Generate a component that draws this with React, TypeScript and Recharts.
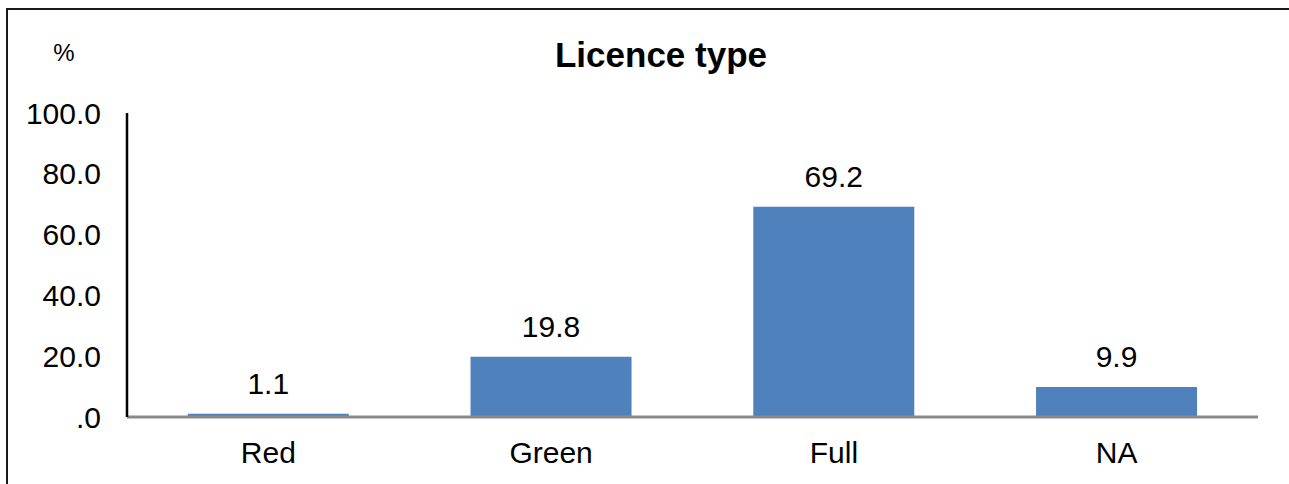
import { BarChart, Bar, XAxis, YAxis, LabelList } from 'recharts'

const categories = ['Red', 'Green', 'Full', 'NA']
const shares = [1.1, 19.8, 69.2, 9.9]
const yTicks = [0, 20, 40, 60, 80, 100]

const data = categories.map((name, i) => ({ name, value: shares[i] }))

const FONT = '"Liberation Sans", Arial, sans-serif'

const fmtTick = (v: number) => (v === 0 ? '.0' : v.toFixed(1))

export default function App() {
  return (
    <div style={{ position: 'absolute', left: 0, top: 0, width: 1289, height: 484, overflow: 'hidden', background: '#fff' }}>
      {/* chart frame, runs off the right and bottom edges like the source */}
      <div style={{ position: 'absolute', left: 6, top: 8, width: 1400, height: 600, border: '2px solid #1a1a1a' }} />
      <svg width={1289} height={484} style={{ position: 'absolute', left: 0, top: 0 }}>
        <text x={661} y={67} textAnchor="middle" fontFamily={FONT} fontWeight={700} fontSize={35} fill="#000">
          Licence type
        </text>
        <text x={64} y={61} textAnchor="middle" fontFamily={FONT} fontSize={24} fill="#000">
          %
        </text>
      </svg>
      <div style={{ position: 'absolute', left: 0, top: 0 }}>
        <BarChart
          width={1289}
          height={484}
          data={data}
          margin={{ top: 113, right: 31, bottom: 0, left: 27 }}
          barCategoryGap="21.5%"
        >
          <XAxis
            dataKey="name"
            height={67}
            axisLine={{ stroke: '#898989', strokeWidth: 3 }}
            tickLine={false}
            tickSize={0}
            tickMargin={25}
            tick={{ fontSize: 30, fill: '#000', fontFamily: FONT }}
          />
          <YAxis
            width={100}
            domain={[0, 100]}
            ticks={yTicks}
            interval={0}
            tickFormatter={fmtTick}
            axisLine={{ stroke: '#000', strokeWidth: 2.5 }}
            tickLine={false}
            tickSize={0}
            tickMargin={26}
            tick={{ fontSize: 30, fill: '#000', fontFamily: FONT }}
          />
          <Bar dataKey="value" fill="#4F81BD" isAnimationActive={false}>
            <LabelList
              dataKey="value"
              position="top"
              offset={20}
              formatter={(v: number) => v.toFixed(1)}
              style={{ fontSize: 30, fill: '#000', fontFamily: FONT }}
            />
          </Bar>
        </BarChart>
      </div>
    </div>
  )
}
